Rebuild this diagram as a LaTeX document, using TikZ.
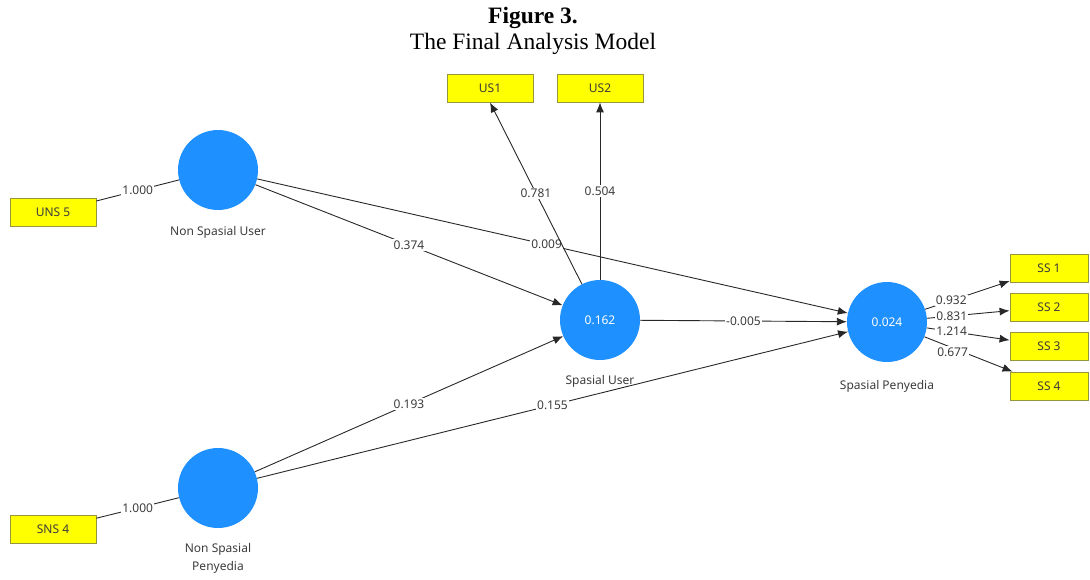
\documentclass[tikz,border=0pt]{standalone}
\usepackage{fontspec}
\setmainfont{Liberation Serif}
\newfontfamily\lblfont{Noto Sans}
\usetikzlibrary{arrows.meta}
\definecolor{latent}{RGB}{30,144,255}
\definecolor{indfill}{RGB}{255,255,0}
\definecolor{inddraw}{RGB}{150,150,60}
\definecolor{edgecol}{RGB}{40,40,40}
\definecolor{lbltext}{RGB}{60,60,60}
\begin{document}
\begin{tikzpicture}[x=1pt,y=-1pt,
  latentnode/.style={circle,fill=latent,minimum size=80pt,inner sep=0pt,
    font=\lblfont\fontsize{12}{14}\selectfont,text=white},
  indbox/.style={rectangle,fill=indfill,draw=inddraw,line width=0.8pt,
    minimum width=86pt,minimum height=28pt,inner sep=0pt,
    font=\lblfont\fontsize{12}{14}\selectfont,text=lbltext},
  ssbox/.style={indbox,minimum width=78pt},
  lvname/.style={font=\lblfont\fontsize{12}{18}\selectfont,text=lbltext,align=center},
  conn/.style={draw=edgecol,line width=0.9pt},
  arr/.style={conn,-{Latex[length=10pt,width=8pt]}},
  wt/.style={fill=white,inner sep=1.2pt,font=\lblfont\fontsize{12}{14}\selectfont,text=lbltext},
  titlefont/.style={font=\fontsize{23.5}{26}\selectfont,anchor=base,inner sep=0pt}
]
\path[use as bounding box] (0,0) rectangle (1090,579);

% title
\node[titlefont,font=\bfseries\fontsize{23.5}{26}\selectfont] (title1) at (533,23.5) {Figure 3.};
\node[titlefont] (title2) at (533,49) {The Final Analysis Model};

% latent variables
\node[latentnode] (nsu) at (218,170) {};
\node[lvname] (nsulbl) at (218,232) {Non Spasial User};
\node[latentnode] (su) at (600,320) {0.162};
\node[lvname] (sulbl) at (600,381) {Spasial User};
\node[latentnode] (sp) at (887,322) {0.024};
\node[lvname] (splbl) at (887,386) {Spasial Penyedia};
\node[latentnode] (nsp) at (218,488) {};
\node[lvname] (nsplbl) at (218,558) {Non Spasial\\Penyedia};

% indicators
\node[indbox] (uns5) at (53,212) {UNS 5};
\node[indbox] (sns4) at (53,529) {SNS 4};
\node[indbox] (us1) at (490,88) {US1};
\node[indbox] (us2) at (600,88) {US2};
\node[ssbox] (ss1) at (1049,268) {SS 1};
\node[ssbox] (ss2) at (1049,307) {SS 2};
\node[ssbox] (ss3) at (1049,346) {SS 3};
\node[ssbox] (ss4) at (1049,386) {SS 4};

% outer model (formative, no arrows)
\draw[conn] (uns5) -- node[wt,pos=0.5] {1.000} (nsu);
\draw[conn] (sns4) -- node[wt,pos=0.5] {1.000} (nsp);

% structural model
\draw[arr] (nsu) -- node[wt,pos=0.5] {0.374} (su);
\draw[arr] (nsu) -- node[wt,pos=0.49] {0.009} (sp);
\draw[arr] (nsp) -- node[wt,pos=0.5] {0.193} (su);
\draw[arr] (nsp) -- node[wt,pos=0.5] {0.155} (sp);
\draw[arr] (su) -- node[wt,pos=0.5] {-0.005} (sp);

% reflective indicators
\draw[arr] (su) -- node[wt,pos=0.5] {0.781} (us1.south);
\draw[arr] (su) -- node[wt,pos=0.5] {0.504} (us2.south);
\draw[arr] (sp) -- node[wt,pos=0.31] {0.932} (ss1);
\draw[arr] (sp) -- node[wt,pos=0.3] {0.831} (ss2);
\draw[arr] (sp) -- node[wt,pos=0.3] {1.214} (ss3);
\draw[arr] (sp) -- node[wt,pos=0.32,yshift=-4pt] {0.677} (ss4);
\end{tikzpicture}
\end{document}
